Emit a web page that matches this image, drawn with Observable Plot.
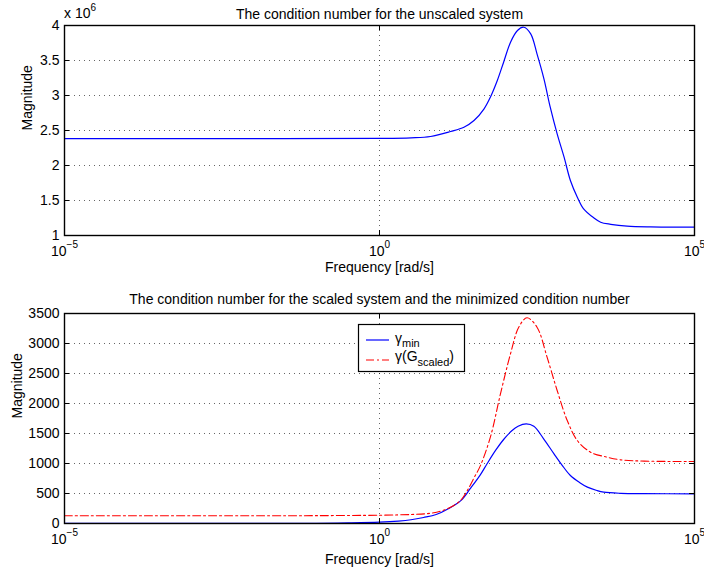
<!DOCTYPE html>
<html>
<head>
<meta charset="utf-8">
<script src="https://cdn.jsdelivr.net/npm/d3@7"></script>
<script src="https://cdn.jsdelivr.net/npm/@observablehq/plot@0.6"></script>
<style>
  html, body { margin: 0; padding: 0; background: #fff; }
  #wrap { position: relative; width: 704px; height: 571px; overflow: hidden; font-family: "Liberation Sans", Arial, Helvetica, sans-serif; }
  #top { position: absolute; left: 0; top: 0; }
  #bottom { position: absolute; left: 0; top: 285px; }
  #legend { position: absolute; left: 358px; top: 324px; }
  svg { overflow: visible; }
</style>
</head>
<body>
<div id="wrap">
  <div id="top"></div>
  <div id="bottom"></div>
  <div id="legend"></div>
</div>
<script>
// Condition number of the unscaled plant, magnitude in units of 10^6,
// sampled at log10 of frequency [rad/s].
const unscaledLogFreq = [-5, -2, 0, 0.5, 0.81, 1.13, 1.34, 1.5, 1.66, 1.76, 1.87, 1.97, 2.08, 2.19, 2.29, 2.4, 2.5, 2.61, 2.71, 2.82, 2.93, 3.03, 3.14, 3.24, 3.4, 3.51, 3.67, 3.93, 4.3, 5];
const unscaledCond = [2.385, 2.385, 2.387, 2.395, 2.414, 2.486, 2.547, 2.643, 2.81, 2.976, 3.214, 3.476, 3.762, 3.929, 3.975, 3.881, 3.595, 3.238, 2.833, 2.452, 2.119, 1.786, 1.548, 1.381, 1.253, 1.19, 1.16, 1.133, 1.122, 1.119];

// Minimized condition number gamma_min
const gammaMinLogFreq = [-5, -2, -1, -0.5, 0, 0.3, 0.5, 0.7, 0.9, 1.1, 1.3, 1.44, 1.6, 1.71, 1.85, 1.97, 2.1, 2.2, 2.33, 2.45, 2.6, 2.77, 2.9, 3.03, 3.18, 3.3, 3.45, 3.56, 3.83, 4.2, 5];
const gammaMin = [1, 2, 4, 10, 22, 40, 62, 100, 150, 250, 390, 580, 810, 1000, 1230, 1400, 1545, 1620, 1660, 1620, 1420, 1161, 970, 800, 680, 606, 550, 522, 503, 497, 495];

// Condition number of the scaled plant gamma(G_scaled)
const gammaScaledLogFreq = [-5, -2, -1, 0, 0.5, 0.76, 0.97, 1.18, 1.3, 1.4, 1.5, 1.6, 1.76, 1.92, 2.08, 2.21, 2.34, 2.5, 2.66, 2.82, 2.98, 3.14, 3.35, 3.61, 3.83, 4.2, 5];
const gammaScaled = [130, 130, 131, 138, 150, 165, 205, 300, 400, 560, 760, 960, 1440, 2160, 2830, 3270, 3428, 3272, 2772, 2217, 1717, 1383, 1189, 1106, 1061, 1040, 1033];

// Axis ticks
const freqTicks = [1e-5, 1, 1e5];
const freqTickExponents = ["\u22125", "0", "5"];
const unscaledTicks = [1, 1.5, 2, 2.5, 3, 3.5, 4];
const scaledTicks = [0, 500, 1000, 1500, 2000, 2500, 3000, 3500];

const FONT = '"Liberation Sans", Arial, Helvetica, sans-serif';
const FS = 14;
const W = 704, ML = 64, MR = 10, PH = 210;
const FW = W - ML - MR;

const toRows = (logs, vals) => logs.map((e, i) => ({f: Math.pow(10, e), v: vals[i]}));

function panel({series, yDomain, yTicks, yFormat, title, titleDy, xlabelDy, magDx, marginTop, marginBottom}) {
  const gridStyle = {stroke: "#000", strokeOpacity: 0.6, strokeWidth: 1, strokeDasharray: "1,4"};
  const svg = Plot.plot({
    width: W,
    height: marginTop + PH + marginBottom,
    marginLeft: ML, marginRight: MR, marginTop, marginBottom,
    style: {fontFamily: FONT, fontSize: FS + "px", color: "#000", background: "transparent", overflow: "visible"},
    x: {type: "log", domain: [1e-5, 1e5], label: null},
    y: {domain: yDomain, label: null},
    marks: [
      Plot.gridY(yTicks, gridStyle),
      Plot.gridX([1], gridStyle),
      ...series.map(s => Plot.line(s.rows, {x: "f", y: "v", stroke: s.color, strokeWidth: s.width, strokeDasharray: s.dash, curve: "catmull-rom"})),
      // inward tick marks on all four sides
      Plot.ruleY(yTicks, {stroke: "#000", insetRight: FW - 5}),
      Plot.ruleY(yTicks, {stroke: "#000", insetLeft: FW - 5}),
      Plot.ruleX(freqTicks, {stroke: "#000", insetTop: PH - 5}),
      Plot.ruleX(freqTicks, {stroke: "#000", insetBottom: PH - 5}),
      Plot.frame({stroke: "#000", strokeWidth: 1.4}),
      Plot.axisY(yTicks, {tickSize: 0, tickPadding: 5, tickFormat: yFormat, fontSize: FS, label: null}),
      Plot.axisX(freqTicks, {tickSize: 0, tickPadding: 11, tickFormat: () => "10", fontSize: FS, label: null}),
      Plot.text([title], {frameAnchor: "top", dy: titleDy, lineAnchor: "bottom", fontSize: FS}),
      Plot.text(["Frequency [rad/s]"], {frameAnchor: "bottom", dy: xlabelDy, lineAnchor: "bottom", fontSize: FS}),
      Plot.text(["Magnitude"], {frameAnchor: "left", dx: magDx, rotate: -90, fontSize: FS})
    ]
  });
  // powers of ten as superscripts on the frequency axis
  d3.select(svg).selectAll('g[aria-label="x-axis tick label"] text').each(function(d, i) {
    d3.select(this).append("tspan").attr("dy", -8).attr("font-size", 10).text(freqTickExponents[i]);
  });
  return svg;
}

const topSvg = panel({
  series: [{rows: toRows(unscaledLogFreq, unscaledCond), color: "#0000ff", width: 1.2}],
  yDomain: [1, 4], yTicks: unscaledTicks, yFormat: d => String(d),
  title: "The condition number for the unscaled system",
  titleDy: -7, xlabelDy: 36, magDx: -36.5, marginTop: 25, marginBottom: 50
});
// exponent multiplier of the magnitude axis
const mult = d3.select(topSvg).append("text")
  .attr("x", 64).attr("y", 18).attr("text-anchor", "start")
  .attr("font-size", FS).attr("font-family", FONT).text("x 10");
mult.append("tspan").attr("dy", -7).attr("font-size", 10).text("6");
document.getElementById("top").append(topSvg);

const bottomSvg = panel({
  series: [
    {rows: toRows(gammaMinLogFreq, gammaMin), color: "#0000ff", width: 1.2},
    {rows: toRows(gammaScaledLogFreq, gammaScaled), color: "#ff0000", width: 1.1, dash: "8,3,2,3"}
  ],
  yDomain: [0, 3500], yTicks: scaledTicks, yFormat: d => String(d),
  title: "The condition number for the scaled system and the minimized condition number",
  titleDy: -10, xlabelDy: 40, magDx: -46.5, marginTop: 28, marginBottom: 48
});
document.getElementById("bottom").append(bottomSvg);

// legend box for the lower panel
const lg = d3.create("svg").attr("width", 108).attr("height", 49)
  .attr("font-family", FONT).attr("font-size", FS);
lg.append("rect").attr("x", 0.5).attr("y", 0.5).attr("width", 106).attr("height", 47)
  .attr("fill", "#fff").attr("stroke", "#000").attr("stroke-width", 1.2);
lg.append("line").attr("x1", 8).attr("x2", 31).attr("y1", 16).attr("y2", 16)
  .attr("stroke", "#0000ff").attr("stroke-width", 1.2);
const t1 = lg.append("text").attr("x", 37).attr("y", 19).text("\u03b3");
t1.append("tspan").attr("dy", 4).attr("font-size", 11).text("min");
lg.append("line").attr("x1", 8).attr("x2", 31).attr("y1", 36).attr("y2", 36)
  .attr("stroke", "#ff0000").attr("stroke-width", 1.1).attr("stroke-dasharray", "8,3,2,3");
const t2 = lg.append("text").attr("x", 37).attr("y", 37).text("\u03b3(G");
t2.append("tspan").attr("dy", 5).attr("font-size", 11).text("scaled");
t2.append("tspan").attr("dy", -5).text(")");
document.getElementById("legend").append(lg.node());
</script>
</body>
</html>
